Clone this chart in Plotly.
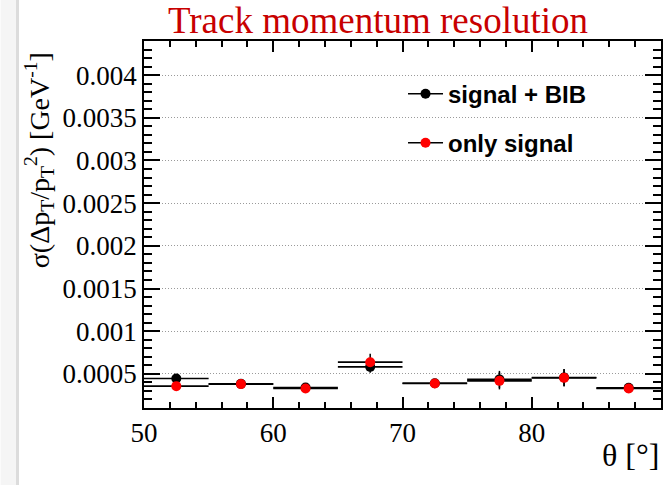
import plotly.graph_objects as go

# Theta bins (degrees): centres and half-widths
theta_centres = [52.5, 57.5, 62.5, 67.5, 72.5, 77.5, 82.5, 87.5]
theta_halfwidth = [2.5, 2.5, 2.5, 2.5, 2.5, 2.5, 2.5, 2.5]

# sigma(dpT/pT^2) [GeV^-1]
res_signal_bib = [0.000446, 0.000383, 0.000341, 0.000582, 0.000390, 0.000435, 0.000458, 0.000336]
err_signal_bib = [0.00003, 0.00003, 0.00002, 0.00007, 0.00002, 0.00010, 0.00010, 0.00002]
res_only_signal = [0.000356, 0.000380, 0.000329, 0.000637, 0.000388, 0.000418, 0.000453, 0.000329]
err_only_signal = [0.00003, 0.00003, 0.00002, 0.00010, 0.00002, 0.00010, 0.00010, 0.00002]

y_tickvals = [0.0005, 0.001, 0.0015, 0.002, 0.0025, 0.003, 0.0035, 0.004]
y_ticktext = ["0.0005", "0.001", "0.0015", "0.002", "0.0025", "0.003", "0.0035", "0.004"]
x_tickvals = [50, 60, 70, 80, 90]
x_ticktext = ["50", "60", "70", "80", "90"]

SERIF = "Liberation Serif, Times New Roman, serif"
SANS = "Liberation Sans, Arial, sans-serif"

fig = go.Figure()


def add_series(y, yerr, colour, name, legend):
    # data points with bin-width horizontal bars and vertical errors
    fig.add_trace(go.Scatter(
        x=theta_centres, y=y, mode="markers",
        marker=dict(color=colour, size=10, line=dict(width=0)),
        error_x=dict(type="data", array=theta_halfwidth, color="black",
                     thickness=1.6, width=0),
        error_y=dict(type="data", array=yerr, color="black",
                     thickness=1.5, width=0),
        showlegend=False, cliponaxis=False,
    ))
    # legend entry: line with marker
    fig.add_trace(go.Scatter(
        x=[None], y=[None], mode="lines+markers", name=f"<b>{name}</b>",
        line=dict(color="black", width=1.5),
        marker=dict(color=colour, size=10),
        legend=legend, showlegend=True,
    ))


add_series(res_signal_bib, err_signal_bib, "black", "signal + BIB", "legend")
add_series(res_only_signal, err_only_signal, "#ff0000", "only signal", "legend2")

axis_common = dict(
    showline=True, linecolor="black", linewidth=1.5, mirror="allticks",
    ticks="inside", tickcolor="black", tickwidth=1.5,
    tickfont=dict(family=SERIF, size=27, color="black"),
    zeroline=False,
)

fig.update_xaxes(
    range=[50, 90], tickmode="array", tickvals=x_tickvals, ticktext=x_ticktext,
    ticklen=11, showgrid=False,
    minor=dict(ticks="inside", tickmode="linear", tick0=50, dtick=2,
               ticklen=6, tickcolor="black", tickwidth=1.5, showgrid=False),
    **axis_common,
)
fig.update_yaxes(
    range=[0.0001, 0.0044], tickmode="array", tickvals=y_tickvals, ticktext=y_ticktext,
    ticklen=16, showgrid=True, gridcolor="#9a9a9a", griddash="1px,2px", gridwidth=1,
    minor=dict(ticks="inside", tickmode="linear", tick0=0, dtick=0.0001,
               ticklen=8, tickcolor="black", tickwidth=1.5, showgrid=False),
    **axis_common,
)

legend_common = dict(
    xref="paper", yref="paper", xanchor="left", yanchor="middle",
    bgcolor="rgba(0,0,0,0)", borderwidth=0, itemwidth=35,
    font=dict(family=SANS, size=24, color="black"),
)

fig.update_layout(
    width=672, height=485,
    margin=dict(l=144, r=9, t=41, b=77),
    paper_bgcolor="white", plot_bgcolor="white",
    title=dict(text="Track momentum resolution", x=378 / 672, xanchor="center",
               y=1 - 20 / 485, yanchor="middle", xref="container", yref="container",
               font=dict(family=SERIF, size=37, color="#c80000")),
    legend=dict(x=0.501, y=0.855, **legend_common),
    legend2=dict(x=0.501, y=0.7215, **legend_common),
)

# axis titles, placed at the far ends of their axes
fig.add_annotation(
    text="σ(Δp<sub>T</sub>/p<sub>T</sub><sup>2</sup>) [GeV<sup>-1</sup>]",
    xref="paper", yref="paper", x=-0.203, y=0.975, xanchor="center", yanchor="top",
    textangle=-90, showarrow=False,
    font=dict(family=SERIF, size=28, color="black"),
)
fig.add_annotation(
    text="θ [°]", xref="paper", yref="paper", x=1.0, y=-0.128,
    xanchor="right", yanchor="middle", showarrow=False,
    font=dict(family=SERIF, size=32, color="black"),
)

# light frame strip along the left edge of the canvas
fig.add_shape(type="rect", xref="paper", yref="paper", x0=-144 / 519, x1=-126 / 519,
              y0=-77 / 367, y1=1 + 41 / 367, fillcolor="#f5f5f5", line=dict(width=0),
              layer="below")
fig.add_shape(type="line", xref="paper", yref="paper", x0=-127 / 519, x1=-127 / 519,
              y0=-77 / 367, y1=1 + 41 / 367, line=dict(color="#dcdcdc", width=3),
              layer="below")

fig.write_html("out.html")
